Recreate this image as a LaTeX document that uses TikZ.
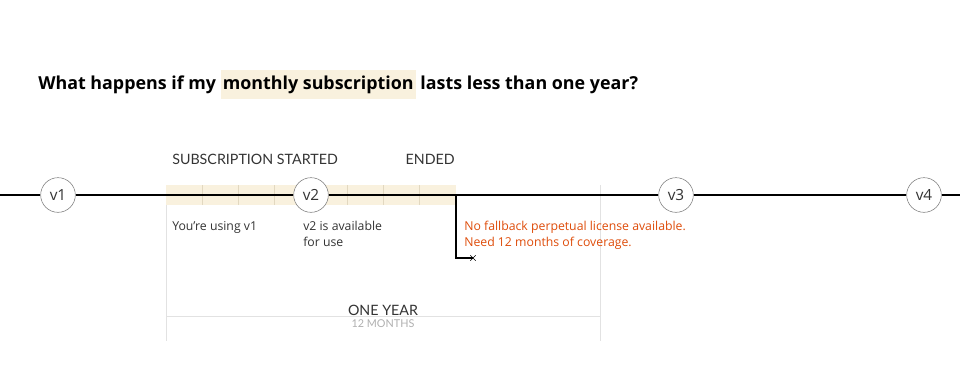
\documentclass[tikz,border=0pt]{standalone}
\usepackage{fontspec}
\setmainfont{Open Sans}
\newfontfamily\capsfont{Lato}
\usetikzlibrary{shapes.misc}

\definecolor{cream}{RGB}{249,241,222}
\definecolor{tickc}{RGB}{226,216,192}
\definecolor{ringc}{RGB}{120,120,120}
\definecolor{textc}{RGB}{51,51,51}
\definecolor{warnc}{RGB}{222,76,10}
\definecolor{rulec}{RGB}{226,226,226}
\definecolor{softc}{RGB}{175,175,175}

\newcommand{\hilite}[1]{{\setlength{\fboxsep}{1.5pt}\colorbox{cream}{\rule[-6pt]{0pt}{19pt}#1}}}

\begin{document}
\begin{tikzpicture}[x=0.75pt,y=-0.75pt,inner sep=0pt,minimum size=0mm,
  version/.style={circle,draw=ringc,fill=white,minimum size=26pt,
    font=\fontsize{11.5}{13}\selectfont,text=textc},
  note/.style={anchor=base west,align=left,
    font=\fontsize{9.2}{12}\selectfont,text=textc},
  caps/.style={font=\capsfont\fontsize{10.7}{12}\selectfont,text=textc}]

\useasboundingbox (0,0) rectangle (960,389);

% question
\node[anchor=base west] (question) at (38,89)
  {\fontsize{13.4}{16}\selectfont\bfseries What happens if my \hilite{monthly subscription} lasts less than one year?};

% subscription band
\fill[cream] (166,185) rectangle (456,205);
\foreach \k in {1,...,7}
  \draw[tickc] ({166+36.25*\k},185) -- ++(0,20);

% guides for one year
\draw[rulec] (166,205) -- (166,341);
\draw[rulec] (600,185) -- (600,341);
\draw[rulec] (166,316) -- (600,316);

% timeline
\coordinate (lineL) at (0,195);
\coordinate (lineR) at (960,195);
\node[version] (v1) at (58,195) {v1};
\node[version] (v2) at (311,195) {v2};
\node[version] (v3) at (676,195) {v3};
\node[version] (v4) at (924,195) {v4};
\draw[line width=0.9pt] (lineL) -- (v1) -- (v2) -- (v3) -- (v4) -- (lineR);

% band labels
\node[caps,anchor=base west] (started) at (172,164) {SUBSCRIPTION STARTED};
\node[caps,anchor=base east] (ended) at (455,164) {ENDED};

% notes (two-line notes sit on their last baseline)
\node[note] (usev1) at (172,230) {You’re using v1};
\node[note] (usev2) at (303,246) {v2 is available\\for use};
\node[note,text=warnc] (nofall) at (464,246) {No fallback perpetual license available.\\Need 12 months of coverage.};

% end of coverage
\coordinate (endcut) at (456,195);
\node[cross out,draw,minimum size=3.5pt,line width=0.5pt] (endmark) at (473,258) {};
\draw[line width=0.9pt] (endcut) |- (endmark.center);

% one year
\node[caps,fill=white,inner xsep=3pt,inner ysep=1pt,anchor=base] (year) at (383,315) {ONE YEAR};
\node[font=\capsfont\fontsize{8.1}{9}\selectfont,text=softc,anchor=base] (months) at (383,327) {12 MONTHS};

\end{tikzpicture}
\end{document}
